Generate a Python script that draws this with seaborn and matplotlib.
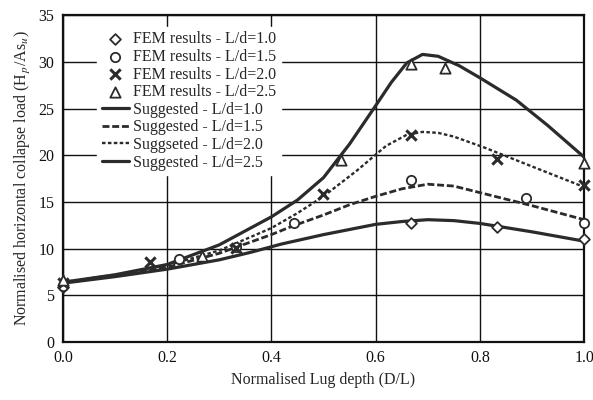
import numpy as np
import pandas as pd
import seaborn as sns
import matplotlib
matplotlib.use("Agg")
import matplotlib.pyplot as plt

## Data
# FEM results (markers)
fem_x_10 = [0.0, 0.667, 0.833, 1.0]
fem_y_10 = [5.9, 12.7, 12.3, 11.0]
fem_x_15 = [0.0, 0.222, 0.333, 0.444, 0.667, 0.889, 1.0]
fem_y_15 = [6.0, 8.9, 10.2, 12.7, 17.4, 15.4, 12.7]
fem_x_20 = [0.0, 0.167, 0.333, 0.5, 0.667, 0.833, 1.0]
fem_y_20 = [6.3, 8.6, 10.1, 15.8, 22.2, 19.6, 16.8]
fem_x_25 = [0.0, 0.267, 0.533, 0.667, 0.733, 1.0]
fem_y_25 = [6.6, 9.2, 19.5, 29.8, 29.3, 19.2]

# Suggested curves
sug_x_10 = [0.0, 0.1, 0.2, 0.3, 0.36, 0.42, 0.5, 0.6, 0.65, 0.7, 0.75, 0.8, 0.9, 1.0]
sug_y_10 = [6.3, 7.0, 7.8, 8.8, 9.6, 10.5, 11.5, 12.6, 12.9, 13.1, 13.0, 12.7, 11.8, 10.8]
sug_x_15 = [0.0, 0.1, 0.2, 0.3, 0.4, 0.44, 0.5, 0.55, 0.6, 0.65, 0.7, 0.75, 0.8, 0.9, 1.0]
sug_y_15 = [6.3, 7.1, 8.0, 9.5, 11.5, 12.4, 13.6, 14.7, 15.6, 16.4, 16.9, 16.7, 16.0, 14.6, 13.1]
sug_x_20 = [0.0, 0.1, 0.2, 0.3, 0.4, 0.45, 0.5, 0.565, 0.62, 0.66, 0.69, 0.72, 0.75, 0.81, 0.9, 1.0]
sug_y_20 = [6.4, 7.2, 8.2, 9.8, 12.2, 13.8, 15.6, 18.4, 21.0, 22.2, 22.5, 22.4, 22.0, 20.8, 18.8, 16.6]
sug_x_25 = [0.0, 0.1, 0.2, 0.3, 0.4, 0.45, 0.5, 0.55, 0.6, 0.63, 0.66, 0.69, 0.72, 0.76, 0.8, 0.87, 0.93, 1.0]
sug_y_25 = [6.4, 7.2, 8.3, 10.4, 13.4, 15.2, 17.6, 21.2, 25.3, 27.8, 29.9, 30.8, 30.6, 29.6, 28.3, 25.9, 23.2, 19.8]

fem = pd.concat([
    pd.DataFrame({"x": fem_x_10, "y": fem_y_10, "s": "FEM results - L/d=1.0"}),
    pd.DataFrame({"x": fem_x_15, "y": fem_y_15, "s": "FEM results - L/d=1.5"}),
    pd.DataFrame({"x": fem_x_20, "y": fem_y_20, "s": "FEM results - L/d=2.0"}),
    pd.DataFrame({"x": fem_x_25, "y": fem_y_25, "s": "FEM results - L/d=2.5"}),
])
sug = pd.concat([
    pd.DataFrame({"x": sug_x_10, "y": sug_y_10, "s": "Suggested - L/d=1.0"}),
    pd.DataFrame({"x": sug_x_15, "y": sug_y_15, "s": "Suggested - L/d=1.5"}),
    pd.DataFrame({"x": sug_x_20, "y": sug_y_20, "s": "Suggseted - L/d=2.0"}),
    pd.DataFrame({"x": sug_x_25, "y": sug_y_25, "s": "Suggested - L/d=2.5"}),
])

sns.set_style("white")
plt.rcParams["font.family"] = ["Liberation Serif", "DejaVu Serif"]
plt.rcParams["mathtext.fontset"] = "stix"

fig, ax = plt.subplots(figsize=(5.93, 4.0), dpi=100)
fig.subplots_adjust(left=0.106, right=0.985, top=0.962, bottom=0.145)

ink = "#2b2b2b"
markers = ["D", "o", "x", "^"]
msizes = [30, 45, 55, 55]
for i, name in enumerate(fem["s"].unique()):
    d = fem[fem["s"] == name]
    if markers[i] == "x":
        sns.scatterplot(data=d, x="x", y="y", ax=ax, marker="x", s=msizes[i],
                        color=ink, linewidth=2.2, label=name, zorder=5, clip_on=False)
    else:
        sns.scatterplot(data=d, x="x", y="y", ax=ax, marker=markers[i], s=msizes[i],
                        facecolor="white", edgecolor=ink, linewidth=1.3,
                        label=name, zorder=5, clip_on=False)

styles = ["-", (0, (2.5, 1)), (0, (1.5, 1)), "-"]
widths = [2.3, 2.0, 1.7, 2.3]
for i, name in enumerate(sug["s"].unique()):
    d = sug[sug["s"] == name]
    sns.lineplot(data=d, x="x", y="y", ax=ax, color=ink, linestyle=styles[i],
                 linewidth=widths[i], label=name, zorder=3, sort=False)

ax.set_xlim(0, 1.0)
ax.set_ylim(0, 35)
ax.set_xticks(np.arange(0, 1.01, 0.2))
ax.set_xticklabels([f"{v:.1f}" for v in np.arange(0, 1.01, 0.2)])
ax.set_yticks(range(0, 36, 5))
ax.grid(True, color="#111111", linewidth=1.0)
for sp in ax.spines.values():
    sp.set_color("#111111")
    sp.set_linewidth(1.6)
ax.tick_params(direction="inout", length=5, width=1, labelsize=11.5, colors="#111111")

ax.set_xlabel("Normalised Lug depth (D/L)", fontsize=11.5)
ax.set_ylabel(r"Normalised horizontal collapse load (H$_{\,p}$/As$_u$)", fontsize=11.5)

leg = ax.legend(loc="upper left", bbox_to_anchor=(0.065, 0.965), frameon=True,
                facecolor="white", edgecolor="white", framealpha=1.0, fancybox=False,
                fontsize=11.5, handlelength=1.7, handletextpad=0.25,
                labelspacing=0.1, borderaxespad=0.0, borderpad=0.3)
leg.set_zorder(4)

plt.savefig("out.png", dpi=100)
